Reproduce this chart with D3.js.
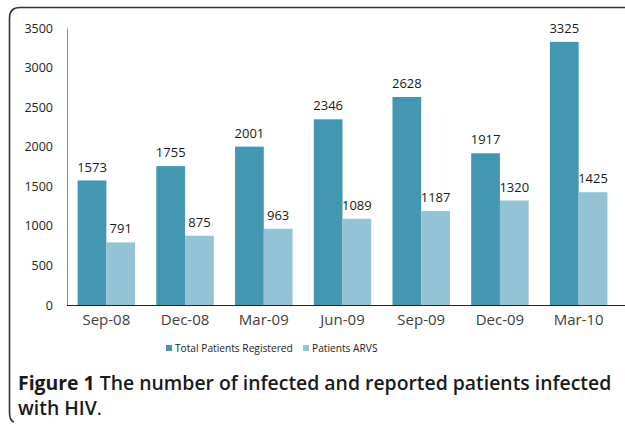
<!DOCTYPE html>
<html>
<head>
<meta charset="utf-8">
<script src="https://cdn.jsdelivr.net/npm/d3@7"></script>
<style>
  body { margin: 0; background: #fff; }
  svg { display: block; font-family: "Open Sans", sans-serif; }
</style>
</head>
<body>
<div id="chart"></div>
<script>
const categories = ['Sep-08', 'Dec-08', 'Mar-09', 'Jun-09', 'Sep-09', 'Dec-09', 'Mar-10'];
const totalRegistered = [1573, 1755, 2001, 2346, 2628, 1917, 3325];
const patientsArvs = [791, 875, 963, 1089, 1187, 1320, 1425];
const seriesNames = ['Total Patients Registered', 'Patients ARVS'];
const seriesColors = ['#4397b0', '#93c3d5'];
const yTicks = [0, 500, 1000, 1500, 2000, 2500, 3000, 3500];

const width = 625, height = 424;
const margin = { top: 28, right: 7, bottom: 119, left: 67 };

const svg = d3.select('#chart')
  .append('svg')
  .attr('width', width)
  .attr('height', height);

// frame with rounded top-left / bottom-left corners
svg.append('path')
  .attr('d', 'M 640 7.5 L 20 7.5 Q 9.5 7.5 9.5 18 L 9.5 412 Q 9.5 421 14 422')
  .attr('fill', 'none')
  .attr('stroke', '#333')
  .attr('stroke-width', 1.6);

const y = d3.scaleLinear()
  .domain([0, 3500])
  .range([height - margin.bottom, margin.top]);

const x0 = d3.scaleBand()
  .domain(categories)
  .range([margin.left, 618])
  .paddingInner(0.27)
  .paddingOuter(0.135);

const x1 = d3.scaleBand()
  .domain(seriesNames)
  .range([0, x0.bandwidth()]);

const data = categories.map((c, i) => ({
  cat: c,
  values: [totalRegistered[i], patientsArvs[i]]
}));

// bars
const groups = svg.selectAll('g.grp')
  .data(data)
  .enter()
  .append('g')
  .attr('class', 'grp')
  .attr('transform', d => 'translate(' + x0(d.cat) + ',0)');

groups.selectAll('rect')
  .data(d => d.values.map((v, j) => ({ v: v, s: seriesNames[j], j: j })))
  .enter()
  .append('rect')
  .attr('x', d => x1(d.s))
  .attr('y', d => y(d.v))
  .attr('width', x1.bandwidth())
  .attr('height', d => y(0) - y(d.v))
  .attr('fill', d => seriesColors[d.j]);

groups.selectAll('text')
  .data(d => d.values.map((v, j) => ({ v: v, s: seriesNames[j] })))
  .enter()
  .append('text')
  .attr('x', d => x1(d.s) + x1.bandwidth() / 2)
  .attr('y', d => y(d.v) - 9)
  .attr('text-anchor', 'middle')
  .attr('font-size', 13)
  .attr('fill', '#1a1a1a')
  .text(d => d.v);

// y axis
const yAxis = svg.append('g')
  .attr('transform', 'translate(' + margin.left + ',0)')
  .call(d3.axisLeft(y).tickValues(yTicks).tickFormat(d3.format('d')).tickSize(0).tickPadding(14));
yAxis.select('.domain').attr('stroke', '#8c8c8c').attr('stroke-width', 1);
yAxis.selectAll('text')
  .attr('font-size', 12.5)
  .attr('font-family', '"Open Sans", sans-serif')
  .attr('fill', '#222');

// x axis
const xAxis = svg.append('g')
  .attr('transform', 'translate(0,' + y(0) + ')')
  .call(d3.axisBottom(x0).tickSize(0).tickPadding(9));
xAxis.select('.domain')
  .attr('d', 'M' + margin.left + ',0.5H' + width)
  .attr('stroke', '#222')
  .attr('stroke-width', 1.2);
xAxis.selectAll('text')
  .attr('font-size', 15)
  .attr('font-family', '"Open Sans", sans-serif')
  .attr('fill', '#404040');

// legend
const legendX = [166, 303];
const legend = svg.append('g');
seriesNames.forEach((name, i) => {
  legend.append('rect')
    .attr('x', legendX[i])
    .attr('y', 345)
    .attr('width', 6)
    .attr('height', 6)
    .attr('fill', seriesColors[i]);
  legend.append('text')
    .attr('x', legendX[i] + 9)
    .attr('y', 352)
    .attr('font-size', 10.2)
    .attr('fill', '#222')
    .text(name);
});

// caption
const cap1 = svg.append('text')
  .attr('x', 18)
  .attr('y', 390)
  .attr('font-size', 19.4)
  .attr('fill', '#1a1a1a');
cap1.append('tspan').attr('font-weight', 700).text('Figure 1');
cap1.append('tspan').attr('font-weight', 600).text(' The number of infected and reported patients infected');

const cap2 = svg.append('text')
  .attr('x', 18)
  .attr('y', 415)
  .attr('font-size', 19.4)
  .attr('fill', '#1a1a1a');
cap2.append('tspan').attr('font-weight', 600).text('with HIV');
cap2.append('tspan').attr('font-weight', 400).text('.');
</script>
</body>
</html>
